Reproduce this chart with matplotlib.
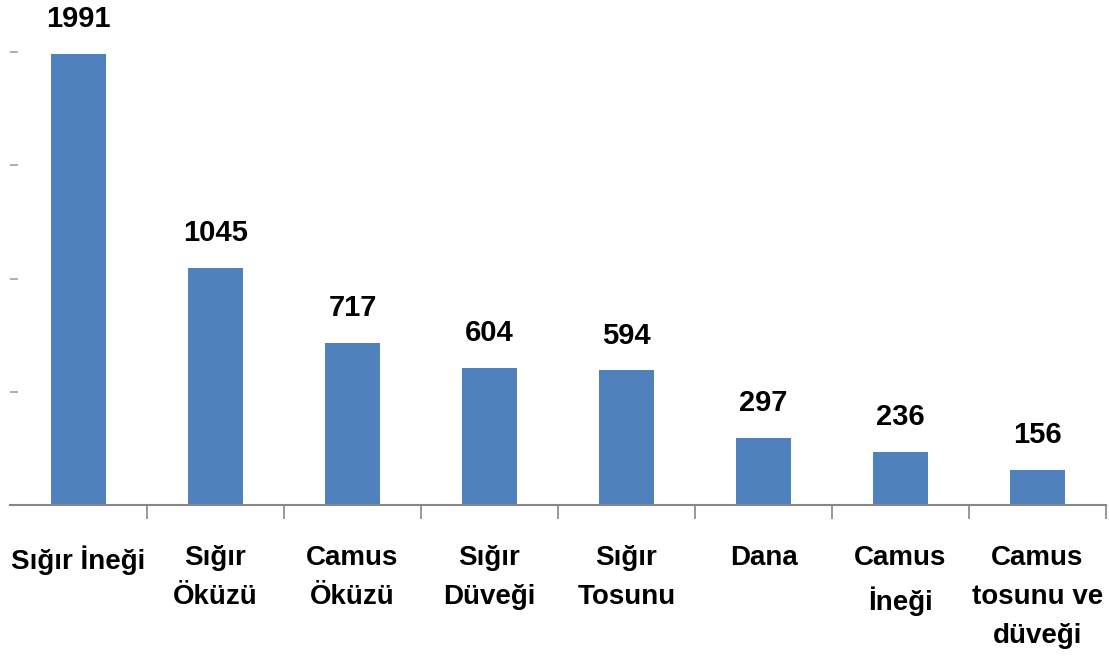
import matplotlib
matplotlib.use("Agg")
import matplotlib.pyplot as plt

# data
categories = ["Sığır İneği", "Sığır\nÖküzü", "Camus\nÖküzü", "Sığır\nDüveği",
              "Sığır\nTosunu", "Dana", "Camus\nİneği", "Camus\ntosunu ve\ndüveği"]
values = [1991, 1045, 717, 604, 594, 297, 236, 156]
y_ticks = [0, 500, 1000, 1500, 2000]

plt.rcParams['font.family'] = ['Liberation Sans', 'DejaVu Sans']
size = 20

fig = plt.figure(figsize=(11.09, 6.61), dpi=100)
ax = fig.add_axes([10 / 1109, (661 - 505) / 661, (1106 - 10) / 1109, (505 - 52) / 661])

x = list(range(len(values)))
ax.bar(x, values, width=0.4, color='#4F81BD', zorder=2)

for xi, v in zip(x, values):
    ax.annotate(str(v), (xi, v), textcoords="offset points", xytext=(0, 15),
                ha='center', va='bottom', fontsize=size + 1, fontweight='bold',
                annotation_clip=False)

ax.set_xlim(-0.5, len(values) - 0.5)
ax.set_ylim(0, 2000)

# category labels under the axis
ax.set_xticks(x)
ax.set_xticklabels(categories, fontsize=size, fontweight='bold', linespacing=1.65,
                   va='top')
ax.tick_params(axis='x', which='major', length=0, pad=29)
ax.set_xticks([i + 0.5 for i in x], minor=True)
ax.tick_params(axis='x', which='minor', length=10, width=1.2, color='#868686')

ax.set_yticks(y_ticks)
ax.set_yticklabels([])
ax.tick_params(axis='y', direction='in', length=6, width=1.2, color='#A0A0A0')

for side in ['top', 'right', 'left']:
    ax.spines[side].set_visible(False)
ax.spines['bottom'].set_color('#868686')
ax.spines['bottom'].set_linewidth(1.5)

fig.savefig("out.png", dpi=100)
